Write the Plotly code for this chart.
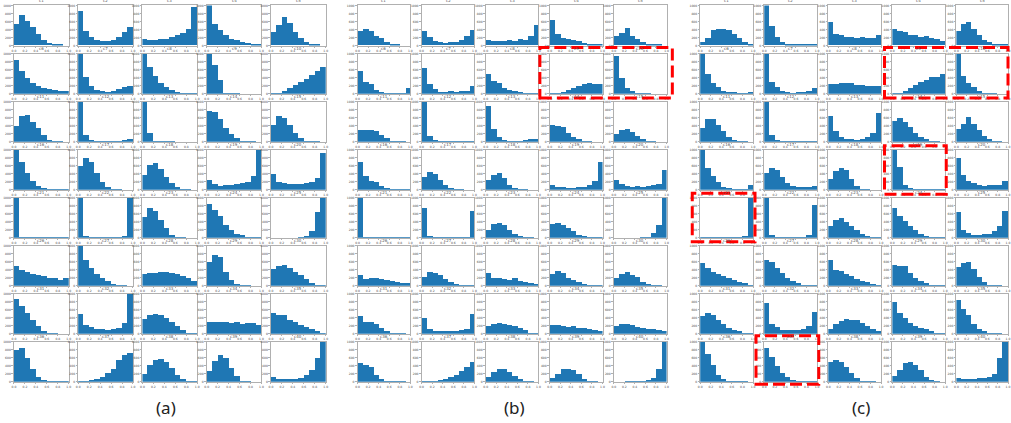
import plotly.graph_objects as go

# ---------------- data: bin counts (10 bins on [0,1]) ----------------
BIN_CENTERS = [0.05, 0.15, 0.25, 0.35, 0.45, 0.55, 0.65, 0.75, 0.85, 0.95]
X_TICKS = [0.0, 0.2, 0.4, 0.6, 0.8, 1.0]
X_TICK_TEXT = ["0.0", "0.2", "0.4", "0.6", "0.8", "1.0"]
Y_TICKS = [0, 200, 400, 600, 800, 1000]
TITLES = ["c%d" % i for i in range(1, 41)]
PANEL_LABELS = ["(a)", "(b)", "(c)"]

PANEL_A = [
    [520, 750, 610, 450, 280, 130, 50, 15, 5, 0],
    [840, 350, 200, 130, 100, 110, 140, 200, 330, 460],
    [160, 130, 140, 150, 160, 200, 240, 300, 410, 950],
    [1150, 530, 370, 240, 160, 120, 90, 60, 40, 30],
    [330, 490, 710, 560, 330, 180, 80, 20, 10, 0],
    [850, 580, 400, 270, 200, 160, 130, 100, 90, 80],
    [1200, 420, 200, 110, 90, 60, 80, 120, 170, 200],
    [1050, 670, 450, 280, 170, 100, 60, 40, 20, 10],
    [1020, 720, 350, 30, 10, 5, 0, 0, 0, 0],
    [20, 40, 80, 150, 220, 290, 370, 470, 580, 680],
    [390, 640, 680, 510, 350, 170, 60, 20, 5, 0],
    [1300, 180, 60, 40, 40, 30, 20, 40, 50, 90],
    [1300, 220, 40, 10, 5, 5, 0, 0, 0, 0],
    [780, 750, 580, 340, 210, 100, 30, 10, 5, 0],
    [430, 640, 600, 420, 220, 100, 40, 10, 5, 0],
    [1150, 700, 420, 220, 110, 50, 20, 10, 5, 30],
    [610, 800, 700, 420, 200, 80, 30, 10, 0, 0],
    [370, 620, 670, 520, 320, 170, 80, 30, 10, 0],
    [240, 150, 100, 130, 120, 150, 180, 200, 340, 1100],
    [390, 210, 170, 150, 150, 160, 170, 200, 290, 920],
    [3000, 30, 10, 5, 5, 5, 5, 10, 5, 5],
    [1500, 60, 30, 20, 20, 20, 20, 30, 60, 1500],
    [520, 750, 680, 450, 240, 90, 30, 10, 0, 0],
    [860, 700, 540, 330, 210, 110, 70, 40, 20, 10],
    [0, 0, 0, 0, 0, 10, 60, 170, 660, 1100],
    [490, 390, 350, 310, 270, 260, 200, 210, 160, 190],
    [1100, 640, 460, 310, 200, 120, 60, 30, 10, 0],
    [310, 320, 330, 340, 340, 330, 300, 240, 190, 120],
    [600, 780, 730, 360, 160, 60, 30, 10, 0, 0],
    [420, 510, 530, 450, 340, 270, 170, 90, 30, 10],
    [880, 690, 530, 360, 200, 90, 40, 10, 0, 0],
    [510, 230, 180, 120, 130, 110, 130, 160, 280, 1100],
    [380, 470, 500, 480, 400, 300, 190, 100, 40, 20],
    [290, 300, 310, 290, 280, 310, 250, 280, 270, 230],
    [530, 470, 470, 360, 300, 230, 170, 120, 90, 40],
    [800, 860, 600, 320, 140, 60, 20, 10, 5, 5],
    [10, 30, 50, 90, 140, 220, 330, 540, 670, 720],
    [210, 420, 560, 570, 510, 350, 180, 80, 30, 10],
    [270, 530, 680, 590, 350, 150, 40, 10, 0, 0],
    [120, 90, 80, 80, 90, 110, 170, 300, 600, 1100],
]

PANEL_B = [
    [350, 400, 350, 230, 170, 80, 40, 10, 0, 0],
    [350, 200, 110, 80, 60, 70, 80, 120, 230, 370],
    [120, 100, 100, 100, 120, 110, 150, 140, 230, 510],
    [620, 270, 180, 150, 120, 110, 60, 40, 30, 20],
    [220, 300, 430, 230, 150, 80, 30, 10, 5, 0],
    [580, 310, 240, 110, 60, 40, 40, 40, 40, 160],
    [660, 240, 130, 60, 60, 80, 50, 80, 90, 190],
    [510, 330, 270, 150, 110, 80, 60, 40, 30, 30],
    [10, 20, 50, 110, 150, 210, 250, 270, 260, 260],
    [950, 390, 160, 80, 30, 10, 5, 0, 0, 0],
    [310, 290, 310, 270, 180, 110, 40, 10, 5, 0],
    [1300, 160, 50, 30, 20, 20, 20, 20, 30, 30],
    [900, 330, 120, 50, 40, 40, 40, 50, 70, 80],
    [430, 390, 370, 220, 130, 70, 20, 10, 0, 0],
    [190, 290, 320, 250, 150, 70, 25, 10, 0, 0],
    [710, 350, 220, 190, 100, 50, 20, 10, 5, 10],
    [320, 450, 400, 250, 120, 50, 20, 5, 0, 0],
    [260, 380, 430, 290, 140, 60, 20, 5, 0, 0],
    [120, 90, 70, 60, 60, 70, 90, 130, 220, 700],
    [250, 150, 110, 90, 110, 90, 100, 120, 150, 490],
    [3000, 30, 10, 10, 10, 10, 10, 10, 10, 5],
    [760, 50, 40, 30, 20, 20, 20, 20, 30, 680],
    [200, 340, 380, 320, 210, 110, 50, 20, 5, 0],
    [350, 370, 330, 260, 170, 90, 50, 30, 20, 10],
    [0, 0, 0, 0, 0, 10, 20, 140, 320, 1200],
    [280, 170, 190, 190, 170, 160, 130, 110, 90, 90],
    [230, 350, 330, 280, 180, 110, 60, 30, 10, 5],
    [320, 200, 210, 180, 150, 190, 120, 100, 80, 60],
    [290, 370, 330, 210, 150, 100, 60, 30, 10, 5],
    [200, 300, 350, 280, 220, 110, 50, 20, 5, 0],
    [450, 310, 300, 250, 150, 80, 40, 20, 5, 0],
    [410, 140, 90, 70, 70, 70, 80, 100, 130, 500],
    [200, 250, 270, 250, 230, 190, 150, 100, 30, 20],
    [230, 220, 200, 170, 190, 160, 150, 130, 110, 70],
    [190, 240, 240, 220, 180, 160, 140, 120, 110, 70],
    [480, 420, 380, 170, 90, 40, 20, 10, 5, 0],
    [10, 20, 30, 50, 70, 120, 180, 270, 380, 500],
    [130, 250, 320, 330, 260, 160, 80, 20, 5, 0],
    [110, 200, 320, 320, 290, 200, 80, 30, 10, 0],
    [0, 0, 5, 10, 20, 30, 60, 110, 320, 1200],
]

PANEL_C = [
    [90, 180, 370, 400, 400, 370, 270, 180, 90, 30],
    [1200, 480, 200, 90, 40, 30, 20, 20, 30, 40],
    [570, 280, 240, 210, 200, 180, 200, 180, 180, 250],
    [400, 340, 330, 260, 250, 200, 220, 180, 160, 110],
    [360, 530, 580, 410, 240, 140, 70, 30, 10, 5],
    [1200, 500, 270, 170, 90, 60, 50, 40, 40, 60],
    [1200, 290, 170, 80, 50, 40, 50, 60, 80, 160],
    [260, 260, 280, 280, 270, 230, 230, 200, 190, 190],
    [20, 40, 80, 150, 220, 290, 350, 430, 420, 490],
    [1050, 450, 270, 170, 80, 30, 10, 5, 0, 0],
    [360, 570, 580, 420, 270, 130, 60, 20, 5, 0],
    [1300, 170, 60, 30, 20, 20, 20, 20, 30, 40],
    [640, 280, 140, 90, 70, 50, 90, 130, 230, 720],
    [530, 610, 510, 370, 220, 140, 70, 30, 10, 0],
    [330, 440, 620, 450, 290, 160, 70, 30, 10, 0],
    [1150, 540, 360, 190, 90, 50, 30, 20, 30, 130],
    [420, 560, 500, 330, 170, 110, 90, 70, 70, 100],
    [270, 480, 550, 490, 280, 100, 40, 10, 0, 0],
    [1200, 570, 130, 50, 20, 10, 5, 5, 5, 10],
    [800, 380, 230, 170, 140, 110, 120, 130, 130, 220],
    [20, 20, 20, 20, 20, 20, 20, 30, 50, 1100],
    [1300, 70, 30, 20, 20, 20, 30, 30, 70, 820],
    [300, 460, 490, 400, 310, 210, 110, 50, 10, 5],
    [760, 560, 430, 300, 200, 100, 60, 30, 10, 5],
    [640, 200, 120, 80, 80, 100, 100, 180, 300, 680],
    [570, 440, 340, 310, 240, 210, 160, 110, 70, 40],
    [640, 600, 450, 330, 210, 120, 70, 30, 10, 5],
    [640, 400, 370, 290, 240, 170, 140, 100, 60, 40],
    [520, 510, 490, 330, 200, 120, 70, 40, 20, 10],
    [480, 580, 610, 420, 220, 100, 40, 10, 5, 0],
    [460, 520, 480, 340, 240, 160, 110, 70, 40, 30],
    [780, 260, 170, 110, 100, 110, 110, 120, 190, 540],
    [130, 250, 330, 370, 360, 340, 280, 200, 120, 70],
    [790, 520, 400, 280, 200, 150, 120, 70, 40, 40],
    [850, 630, 470, 260, 140, 70, 30, 10, 5, 0],
    [1020, 700, 430, 180, 90, 30, 10, 10, 5, 0],
    [860, 620, 410, 220, 120, 60, 30, 20, 10, 10],
    [510, 560, 510, 370, 230, 110, 40, 20, 5, 0],
    [150, 300, 480, 500, 430, 310, 140, 60, 10, 0],
    [110, 90, 90, 80, 100, 100, 140, 210, 610, 1100],
]

# ---------------- layout geometry (pixels) ----------------
W, H = 1011, 423
PANEL_GEOM = [  # (left of first column, column pitch, plot width)
    (12, 64.5, 55),
    (357, 64.3, 53),
    (701, 64.3, 53),
]
ROW_TOP0, ROW_PITCH, ROW_H = 3.5, 48.5, 40.5
LABEL_POS = [(165, 409), (515, 409), (862, 409)]
RED_BOXES = [  # (x0, y0, x1, y1) in px from top-left
    (540, 46, 673, 97),
    (886, 46, 1010, 97),
    (886, 145, 948, 194),
    (693, 193, 756, 242),
    (757, 337, 820, 386),
]

BLUE = "#1f77b4"
SPINE = "#b0b0b0"
TICKC = "#4a4a4a"

fig = go.Figure()
layout = {}
annotations = []

for p, data in enumerate([PANEL_A, PANEL_B, PANEL_C]):
    left0, pitch, width = PANEL_GEOM[p]
    for k, vals in enumerate(data):
        r, c = divmod(k, 5)
        idx = p * 40 + k + 1
        xs = "" if idx == 1 else str(idx)
        l = left0 + pitch * c
        rr = min(l + width, W - 1)
        t = ROW_TOP0 + ROW_PITCH * r
        b = t + ROW_H
        fig.add_trace(go.Bar(
            x=BIN_CENTERS, y=vals, width=0.1,
            marker=dict(color=BLUE, line=dict(width=0)),
            xaxis="x" + xs, yaxis="y" + xs,
            showlegend=False, hoverinfo="skip",
        ))
        layout["xaxis" + xs] = dict(
            domain=[l / W, rr / W], anchor="y" + xs, range=[0, 1],
            tickvals=X_TICKS, ticktext=X_TICK_TEXT,
            tickfont=dict(size=3, color=TICKC, family="DejaVu Sans"),
            ticks="outside", ticklen=1.5, tickwidth=0.6, tickcolor=SPINE,
            showline=True, mirror=True, linecolor=SPINE, linewidth=1,
            showgrid=False, zeroline=False, fixedrange=True,
        )
        layout["yaxis" + xs] = dict(
            domain=[1 - b / H, 1 - t / H], anchor="x" + xs, range=[0, 1000],
            tickvals=Y_TICKS,
            tickfont=dict(size=3, color=TICKC, family="DejaVu Sans"),
            ticks="outside", ticklen=1.5, tickwidth=0.6, tickcolor=SPINE,
            showline=True, mirror=True, linecolor=SPINE, linewidth=1,
            showgrid=False, zeroline=False, fixedrange=True,
        )
        annotations.append(dict(
            text=TITLES[k], x=(l + rr) / 2 / W, y=1 - (t - 0.5) / H,
            xref="paper", yref="paper", xanchor="center", yanchor="bottom",
            showarrow=False, font=dict(size=4, color="#555555", family="DejaVu Sans"),
        ))

for lab, (lx, ly) in zip(PANEL_LABELS, LABEL_POS):
    annotations.append(dict(
        text=lab, x=lx / W, y=1 - ly / H, xref="paper", yref="paper",
        xanchor="center", yanchor="middle", showarrow=False,
        font=dict(size=17, color="#222222", family="Noto Sans"),
    ))

shapes = []
for (x0, y0, x1, y1) in RED_BOXES:
    shapes.append(dict(
        type="rect", xref="paper", yref="paper",
        x0=x0 / W, x1=x1 / W, y0=1 - y1 / H, y1=1 - y0 / H,
        line=dict(color="#ff0000", width=3, dash="12px,5px"),
        fillcolor="rgba(0,0,0,0)",
    ))

fig.update_layout(
    width=W, height=H, margin=dict(l=0, r=0, t=0, b=0),
    paper_bgcolor="white", plot_bgcolor="white",
    bargap=0, annotations=annotations, shapes=shapes,
    **layout,
)
fig.write_html(
    "out.html",
    config={"displayModeBar": False},
    post_script="document.body.style.margin='0';document.body.style.overflow='hidden';",
)
